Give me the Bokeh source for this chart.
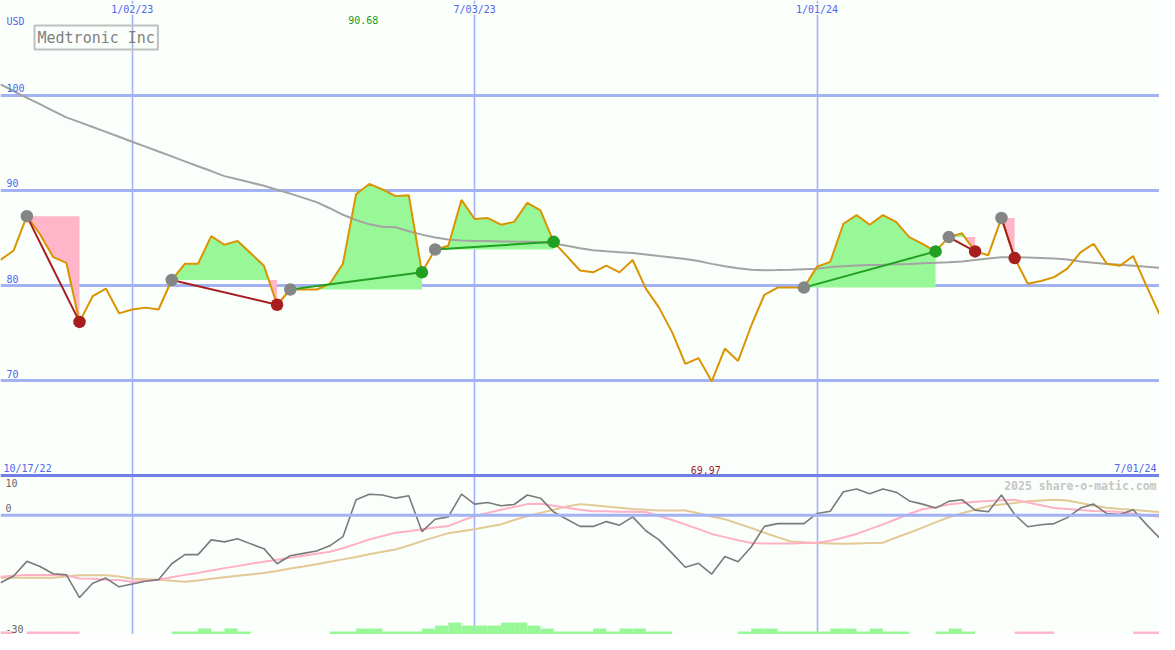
import numpy as np
import pandas as pd
from bokeh.plotting import figure
from bokeh.models import Range1d, FixedTicker, Span
from bokeh.core.properties import value
from bokeh.embed import file_html
from bokeh.resources import INLINE

# ---------------- data ----------------
start_date = "2022-10-24"
first_label = "10/17/22"
last_label = "7/01/24"
date_ticks = ["2023-01-02", "2023-07-03", "2024-01-01"]
date_tick_labels = ["1/02/23", "7/03/23", "1/01/24"]
price_ticks = [100, 90, 80, 70]
osc_ticks = [10, 0, -30]
title = "Medtronic Inc"
currency = "USD"
watermark = "2025 share-o-matic.com"

price = [82.7, 83.7, 87.3, 85.4, 83.0, 82.4, 76.2, 78.9, 79.7, 77.1,
         77.5, 77.7, 77.5, 80.6, 82.3, 82.3, 85.2, 84.3, 84.7, 83.4,
         82.1, 78.0, 79.6, 79.6, 79.6, 80.2, 82.3, 89.6, 90.68, 90.1,
         89.4, 89.5, 81.4, 83.8, 84.2, 89.0, 87.0, 87.1, 86.4, 86.7,
         88.7, 87.9, 84.6, 83.1, 81.6, 81.4, 82.1, 81.4, 82.7, 79.7,
         77.7, 75.1, 71.8, 72.4, 69.97, 73.4, 72.1, 75.8, 79.05, 79.8,
         79.8, 79.8, 82.0, 82.5, 86.5, 87.4, 86.4, 87.4, 86.7, 85.1,
         84.4, 83.6, 85.1, 85.5, 83.6, 83.2, 87.1, 82.9, 80.2, 80.5,
         80.9, 81.8, 83.5, 84.4, 82.3, 82.1, 83.1, 80.0, 77.0]

sma = [101.13, 100.43, 99.72, 99.05, 98.35, 97.66, 97.16, 96.65, 96.14, 95.63,
       95.10, 94.60, 94.08, 93.57, 93.05, 92.54, 92.03, 91.50, 91.17, 90.82,
       90.48, 90.07, 89.66, 89.22, 88.77, 88.13, 87.44, 86.90, 86.44, 86.18,
       86.13, 85.72, 85.36, 85.06, 84.85, 84.75, 84.70, 84.68, 84.65, 84.63,
       84.62, 84.55, 84.44, 84.19, 83.93, 83.73, 83.62, 83.52, 83.42, 83.27,
       83.11, 82.96, 82.80, 82.60, 82.29, 82.04, 81.83, 81.68, 81.63, 81.65,
       81.68, 81.73, 81.78, 81.95, 82.04, 82.12, 82.16, 82.19, 82.24, 82.29,
       82.36, 82.40, 82.45, 82.55, 82.70, 82.86, 82.98, 82.98, 82.96, 82.91,
       82.86, 82.75, 82.55, 82.40, 82.29, 82.19, 82.09, 81.99, 81.88]

osc = [-17.0, -15.3, -11.6, -12.9, -14.7, -15.0, -20.7, -17.1, -15.8, -18.0,
       -17.3, -16.6, -16.2, -12.2, -9.9, -9.9, -6.2, -6.7, -5.9, -7.2,
       -8.4, -12.2, -10.2, -9.6, -9.0, -7.7, -5.4, 3.9, 5.3, 5.1,
       4.3, 4.9, -4.1, -1.0, -0.4, 5.3, 2.8, 3.2, 2.4, 2.7,
       5.1, 4.3, 0.8, -1.0, -2.8, -2.8, -1.6, -2.5, -0.4, -3.9,
       -6.2, -9.6, -13.1, -12.1, -14.8, -10.4, -11.7, -8.0, -2.8, -2.1,
       -2.1, -2.1, 0.45, 1.0, 5.9, 6.6, 5.4, 6.6, 5.8, 3.6,
       2.8, 1.8, 3.5, 3.9, 1.3, 0.9, 5.1, 0.2, -2.9, -2.4,
       -2.1, -0.6, 1.8, 2.8, 0.4, 0.2, 1.4, -2.3, -5.7]

osc_fast = [-15.5, -15.2, -15.0, -15.0, -15.0, -15.1, -15.9, -16.0, -16.2, -16.3,
            -16.8, -16.5, -16.2, -15.6, -15.0, -14.5, -13.9, -13.3, -12.8, -12.2,
            -11.7, -11.2, -10.7, -10.2, -9.7, -9.2, -8.3, -7.2, -6.1, -5.2,
            -4.4, -4.0, -3.5, -3.1, -2.7, -1.4, -0.2, 0.6, 1.4, 2.1,
            2.8, 2.9, 2.4, 1.9, 1.4, 1.0, 1.0, 0.9, 0.9, 0.8,
            -0.2, -1.2, -2.3, -3.5, -4.7, -5.5, -6.3, -7.0, -7.1, -7.1,
            -7.1, -7.0, -6.9, -6.4, -5.6, -4.7, -3.5, -2.3, -1.0, 0.3,
            1.5, 2.0, 2.7, 3.1, 3.4, 3.6, 3.8, 3.9, 3.2, 2.5,
            1.8, 1.6, 1.3, 1.1, 1.0, 0.8, 0.4, 0.0, -0.4]

osc_slow = [-15.7, -15.7, -15.7, -15.7, -15.7, -15.4, -15.1, -15.1, -15.1, -15.4,
            -16.0, -16.1, -16.2, -16.5, -16.7, -16.4, -16.0, -15.6, -15.2, -14.9,
            -14.5, -14.0, -13.4, -12.9, -12.3, -11.7, -11.1, -10.5, -9.8, -9.2,
            -8.6, -7.6, -6.5, -5.5, -4.5, -4.0, -3.5, -2.9, -2.3, -1.2,
            -0.2, 0.6, 1.4, 2.2, 2.8, 2.5, 2.2, 1.9, 1.6, 1.4,
            1.2, 1.2, 1.2, 0.5, -0.3, -1.0, -2.1, -3.2, -4.4, -5.5,
            -6.6, -6.8, -7.0, -7.1, -7.2, -7.1, -7.0, -6.9, -5.6, -4.4,
            -3.1, -1.8, -0.5, 0.5, 1.4, 2.3, 2.7, 3.1, 3.5, 3.7,
            3.9, 3.7, 3.1, 2.4, 1.9, 1.6, 1.4, 1.1, 0.8]

hist = [-0.75, 0, -0.75, -0.75, -0.75, -0.75, 0, 0, 0, 0,
        0, 0, 0, 0.75, 0.75, 1.5, 0.75, 1.5, 0.75, 0,
        0, 0, 0, 0, 0, 0.75, 0.75, 1.5, 1.5, 0.75,
        0.75, 0.75, 1.5, 2.25, 3.0, 2.25, 2.25, 2.25, 3.0, 3.0,
        2.25, 1.5, 0.75, 0.75, 0.75, 1.5, 0.75, 1.5, 1.5, 0.75,
        0.75, 0, 0, 0, 0, 0, 0.75, 1.5, 1.5, 0.75,
        0.75, 0.75, 0.75, 1.5, 1.5, 0.75, 1.5, 0.75, 0.75, 0,
        0, 0.75, 1.5, 0.75, 0, 0, 0, -0.75, -0.75, -0.75,
        0, 0, 0, 0, 0, 0, -0.75, -0.75, 0]

entry_dates = ["2022-11-07", "2023-01-23", "2023-03-27", "2023-06-12",
               "2023-12-25", "2024-03-11", "2024-04-08"]
exit_dates = ["2022-12-05", "2023-03-20", "2023-06-05", "2023-08-14",
              "2024-03-04", "2024-03-25", "2024-04-15"]

# ---------------- layout / style ----------------
W, H = 1159, 634
BG = "#fbfffb"
GRID = "#a3b2f2"
DIVIDER = "#7080e6"
BLUE_TXT = "#5064f0"
MONO = value("DejaVu Sans Mono")
ORANGE = "#d99400"
SMA_C = "#a3a3a3"
UP_FILL = "#98f898"
DN_FILL = "#ffb6c8"
UP_LINE = "#22a022"
DN_LINE = "#a81e1e"
DOT_GREY = "#858585"

dates = pd.date_range(start_date, periods=len(price), freq="7D")
xms = np.array([d.value // 10**6 for d in dates], dtype=float)
week_ms = 7 * 86400000.0
x_end = pd.Timestamp("2024-07-01")

P_TOP = 100 + 97 / 9.77
P_BOT = 100 - 553 / 9.77

p = figure(width=W, height=H, output_backend="svg", toolbar_location=None,
           x_axis_type="datetime", x_axis_location=None, y_axis_location=None,
           x_range=Range1d(dates[0], x_end), y_range=Range1d(P_BOT, P_TOP),
           min_border=0, outline_line_color=None,
           background_fill_color=BG, border_fill_color=BG)
p.extra_y_ranges = {"osc": Range1d(-30, 129.5)}

# grid
p.xgrid.ticker = FixedTicker(ticks=[pd.Timestamp(d).value / 1e6 for d in date_ticks])
p.xgrid.grid_line_color = GRID
p.xgrid.grid_line_width = 1.6
p.ygrid.ticker = FixedTicker(ticks=price_ticks)
p.ygrid.grid_line_color = GRID
p.ygrid.grid_line_width = 3
p.add_layout(Span(location=0, dimension="width", y_range_name="osc",
                  line_color=GRID, line_width=3))
p.add_layout(Span(location=osc_ticks[0], dimension="width", y_range_name="osc",
                  line_color=DIVIDER, line_width=3))

# histogram bars at bottom of oscillator panel
hist = np.array(hist)
nz = hist != 0
p.vbar(x=xms[nz] + week_ms / 2, width=week_ms, bottom=osc_ticks[-1],
       top=osc_ticks[-1] + np.abs(hist[nz]),
       fill_color=[UP_FILL if h > 0 else DN_FILL for h in hist[nz]],
       line_color=None, y_range_name="osc")

# trade fills
price_arr = np.array(price)
idx_of = {d: i for i, d in enumerate(dates)}
ent_i = [idx_of[pd.Timestamp(d)] for d in entry_dates]
ext_i = [idx_of[pd.Timestamp(d)] for d in exit_dates]
for a, b in zip(ent_i, ext_i):
    e = price_arr[a]
    X = [xms[a]]
    P = [price_arr[a]]
    for k in range(a + 1, b + 1):
        d0, d1 = price_arr[k - 1] - e, price_arr[k] - e
        if d0 * d1 < 0:
            t = d0 / (d0 - d1)
            X.append(xms[k - 1] + t * (xms[k] - xms[k - 1]))
            P.append(e)
        X.append(xms[k])
        P.append(price_arr[k])
    X = np.array(X)
    P = np.array(P)
    p.varea(x=X, y1=e, y2=np.maximum(P, e), fill_color=UP_FILL)
    p.varea(x=X, y1=np.minimum(P, e), y2=e, fill_color=DN_FILL)

# oscillator lines
p.line(xms, osc_slow, line_color="#e3c996", line_width=2, y_range_name="osc")
p.line(xms, osc_fast, line_color="#ffb0c6", line_width=2, y_range_name="osc")
p.line(xms, osc, line_color="#7a7a7a", line_width=1.6, y_range_name="osc")

# price panel lines
p.line(xms, sma, line_color=SMA_C, line_width=2)
p.line(xms, price, line_color=ORANGE, line_width=2)

# trades
for a, b in zip(ent_i, ext_i):
    win = price_arr[b] > price_arr[a]
    p.line([xms[a], xms[b]], [price_arr[a], price_arr[b]],
           line_color=UP_LINE if win else DN_LINE, line_width=2)
p.scatter(xms[ent_i], price_arr[ent_i], size=12.5, fill_color=DOT_GREY, line_color=None)
p.scatter(xms[ext_i], price_arr[ext_i], size=12.5, line_color=None,
          fill_color=[UP_LINE if price_arr[b] > price_arr[a] else DN_LINE
                      for a, b in zip(ent_i, ext_i)])

# ---------------- texts ----------------
x0 = dates[0]
p.text(x=[pd.Timestamp(d) for d in date_ticks], y=[P_TOP] * len(date_ticks),
       text=date_tick_labels, text_align="center", text_baseline="top",
       y_offset=3, text_font=MONO, text_font_size="10px", text_color=BLUE_TXT,
       background_fill_color=BG)
p.text(x=[x0] * len(price_ticks), y=price_ticks, text=[str(v) for v in price_ticks],
       text_align="left", text_baseline="bottom", x_offset=6, y_offset=-3,
       text_font=MONO, text_font_size="10px", text_color=BLUE_TXT)
p.text(x=[x0], y=[P_TOP], text=[currency], text_align="left", text_baseline="top",
       x_offset=6, y_offset=15, text_font=MONO, text_font_size="10px",
       text_color=BLUE_TXT)
p.text(x=[x0], y=[osc_ticks[0]], text=[first_label], text_align="left",
       text_baseline="bottom", x_offset=3, y_offset=-2, text_font=MONO,
       text_font_size="10px", text_color=BLUE_TXT, y_range_name="osc")
p.text(x=[x_end], y=[osc_ticks[0]], text=[last_label], text_align="right",
       text_baseline="bottom", x_offset=-3, y_offset=-2, text_font=MONO,
       text_font_size="10px", text_color=BLUE_TXT, y_range_name="osc")
p.text(x=[x0] * 3, y=osc_ticks, text=[str(v) for v in osc_ticks],
       text_align="left", text_baseline=["top", "bottom", "bottom"],
       x_offset=5, y_offset=[3, -3, -2], text_font=MONO, text_font_size="10px",
       text_color="#666666", y_range_name="osc")

imax = int(np.argmax(price_arr))
imin = int(np.argmin(price_arr))
p.text(x=[dates[imax]], y=[P_TOP], text=[f"{price_arr[imax]:.2f}"],
       text_align="center", text_baseline="top", x_offset=-6, y_offset=15,
       text_font=MONO, text_font_size="10px", text_color="#1a9a1a")
p.text(x=[dates[imin]], y=[osc_ticks[0]], text=[f"{price_arr[imin]:.2f}"],
       text_align="center", text_baseline="bottom", x_offset=-6, y_offset=-2,
       text_font=MONO, text_font_size="10px", text_color="#a01c1c",
       y_range_name="osc")
p.text(x=[x_end], y=[osc_ticks[0]], text=[watermark], text_align="right",
       text_baseline="top", x_offset=-3, y_offset=3, text_font=MONO,
       text_font_size="11.5px", text_font_style="bold", text_color="#c6c6c6",
       y_range_name="osc")
p.text(x=[x0], y=[P_TOP], text=[title], text_align="left", text_baseline="top",
       x_offset=34, y_offset=25, text_font=MONO, text_font_size="15px",
       text_color="#808080", border_line_color="#c0c0c0", border_line_width=2,
       padding=3)

open("out.html", "w").write(file_html(p, INLINE))
